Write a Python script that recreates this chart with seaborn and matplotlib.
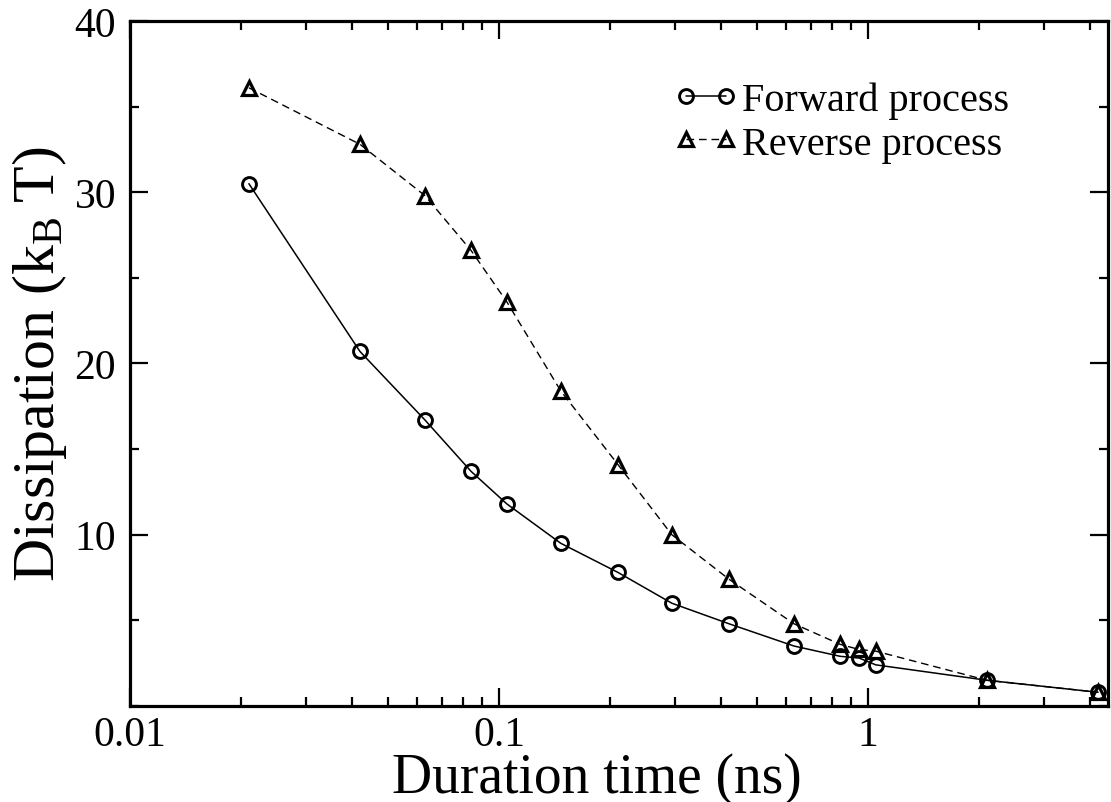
"""Dissipation vs. duration time for forward and reverse pulling processes."""

import matplotlib
matplotlib.use('Agg')
import matplotlib.pyplot as plt
import matplotlib.ticker as mticker
import seaborn as sns
import pandas as pd

# Duration time (ns) and dissipation (k_B T)
duration_ns = [0.021, 0.042, 0.063, 0.084, 0.105, 0.147, 0.21, 0.294,
               0.42, 0.63, 0.84, 0.945, 1.05, 2.1, 4.2]
forward_diss = [30.5, 20.7, 16.7, 13.7, 11.8, 9.5, 7.8, 6.0,
                4.8, 3.5, 2.9, 2.8, 2.4, 1.5, 0.8]
reverse_diss = [36.1, 32.8, 29.8, 26.6, 23.6, 18.4, 14.1, 10.0,
                7.4, 4.8, 3.6, 3.3, 3.2, 1.5, 0.8]

x_ticks = [0.01, 0.1, 1]
x_tick_labels = ['0.01', '0.1', '1']
y_ticks = [10, 20, 30, 40]

sns.set_style('ticks')
plt.rcParams['font.family'] = ['Liberation Serif', 'DejaVu Serif']
plt.rcParams['mathtext.fontset'] = 'custom'
plt.rcParams['mathtext.rm'] = 'Liberation Serif'
plt.rcParams['mathtext.it'] = 'Liberation Serif'
plt.rcParams['text.color'] = 'black'
plt.rcParams['axes.labelcolor'] = 'black'
plt.rcParams['xtick.color'] = 'black'
plt.rcParams['ytick.color'] = 'black'
plt.rcParams['axes.edgecolor'] = 'black'

df = pd.DataFrame({
    'duration': duration_ns,
    'forward': forward_diss,
    'reverse': reverse_diss,
})

fig = plt.figure(figsize=(11.11, 8.03), dpi=100)
ax = fig.add_axes([0.117, 0.1196, 0.8803, 0.853])

sns.lineplot(data=df, x='duration', y='forward', ax=ax, color='black',
             marker='o', markersize=10, markerfacecolor='none',
             markeredgecolor='black', markeredgewidth=2.1, linewidth=1.1,
             label='Forward process')
sns.lineplot(data=df, x='duration', y='reverse', ax=ax, color='black',
             marker='^', markersize=10, markerfacecolor='none',
             markeredgecolor='black', markeredgewidth=2.3, linewidth=1.0,
             linestyle=(0, (5.5, 3.5)), label='Reverse process')

ax.set_xscale('log')
ax.set_xlim(0.01, 4.47)
ax.set_ylim(0, 40)

ax.xaxis.set_major_locator(mticker.FixedLocator(x_ticks))
ax.xaxis.set_major_formatter(mticker.FixedFormatter(x_tick_labels))
ax.xaxis.set_minor_locator(mticker.LogLocator(base=10, subs=range(2, 10)))
ax.xaxis.set_minor_formatter(mticker.NullFormatter())
ax.set_yticks(y_ticks)
ax.yaxis.set_minor_locator(mticker.MultipleLocator(5))

ax.tick_params(which='both', direction='in', top=True, right=True,
               width=1.6, labelsize=30)
ax.tick_params(axis='x', pad=7)
ax.tick_params(axis='y', pad=10)
ax.tick_params(which='major', length=13)
ax.tick_params(which='minor', length=6.5)
for spine in ax.spines.values():
    spine.set_linewidth(2.3)
    spine.set_visible(True)

ax.set_xlabel('Duration time (ns)', fontsize=40)
ax.xaxis.set_label_coords(0.4775, -0.067, transform=ax.transAxes)
ax.xaxis.label.set_va('top')
ax.set_ylabel(r'Dissipation (k$_\mathregular{B}\;$T)', fontsize=43, labelpad=4)

ax.legend(loc='upper right', frameon=False, fontsize=29, numpoints=2,
          handlelength=1.6, handletextpad=0.1, borderaxespad=0.6,
          labelspacing=0.15, bbox_to_anchor=(0.94, 0.97))

plt.savefig('out.png', dpi=100)
plt.close()
